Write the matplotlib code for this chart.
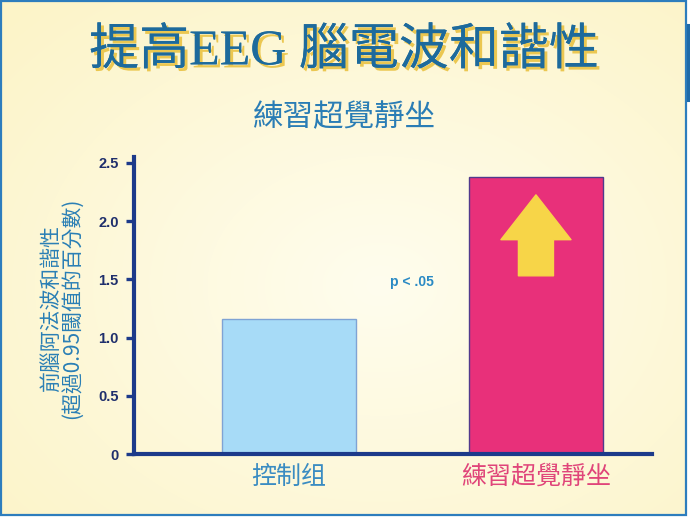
import numpy as np
import matplotlib
matplotlib.use("Agg")
import matplotlib.pyplot as plt
import matplotlib.patheffects as pe
from matplotlib.patches import Rectangle, Polygon
from matplotlib.lines import Line2D

plt.rcParams['font.family'] = ['Noto Sans CJK TC', 'DejaVu Sans']

# ---- data ----
groups = ['控制组', '練習超覺靜坐']
values = [1.16, 2.38]
ytick_values = [0, 0.5, 1.0, 1.5, 2.0, 2.5]
ytick_labels = ['0', '0.5', '1.0', '1.5', '2.0', '2.5']
title = '提高EEG 腦電波和諧性'
subtitle = '練習超覺靜坐'
ylabel = '前腦阿法波和諧性\n(超過0.95閾值的百分數)'
p_text = 'p < .05'

bar_colors = ['#a7dbf7', '#e8307a']
bar_edges = ['#7fa3d4', '#503a8c']
label_colors = ['#3a8cc2', '#e0457a']

W, H = 690, 519
fig = plt.figure(figsize=(W / 100, H / 100), dpi=100)
fig.patch.set_facecolor('white')

# ---- cream background with a soft radial glow ----
bg = fig.add_axes([0, 0, 1, 1], zorder=-10)
yy, xx = np.mgrid[0:H, 0:W]
r = np.sqrt(((xx - 0.55 * W) / W) ** 2 + ((yy - 0.55 * H) / H) ** 2)
t = np.clip(r / 0.75, 0, 1)[..., None]
inner = np.array([255, 253, 238]) / 255.0
outer = np.array([252, 244, 200]) / 255.0
img = inner * (1 - t) + outer * t
bg.imshow(img, extent=[0, W, H, 0], aspect='auto')
bg.set_xlim(0, W)
bg.set_ylim(H, 0)
bg.axis('off')
# white margin outside the frame and the blue frame itself
bg.add_patch(Rectangle((686.5, 0), 10, H, color='white', zorder=2))
bg.add_patch(Rectangle((0, 515.5), W, 10, color='white', zorder=2))
bg.add_patch(Rectangle((1, 1), 685, 514, fill=False, edgecolor='#2d7dbd',
                       linewidth=1.6, zorder=3))
bg.add_line(Line2D([688, 688], [25, 100], color='#1f6aa8', linewidth=2.2, zorder=3))

# ---- titles ----
fig.text(344 / W, 1 - 52 / H, title, ha='center', va='center',
         fontsize=36, color='#1d6a9c',
         family=['Liberation Serif', 'Noto Sans CJK TC'],
         path_effects=[pe.withSimplePatchShadow(offset=(2.2, -2.2),
                                                shadow_rgbFace='#e8bf3a',
                                                alpha=0.85),
                       pe.Normal()])
fig.text(344 / W, 1 - 118 / H, subtitle, ha='center', va='center',
         fontsize=22, color='#2a7db5')

# ---- bar chart ----
ax = fig.add_axes([134 / W, 1 - 454 / H, (652 - 134) / W, (454 - 157) / H])
ax.patch.set_alpha(0)
x = np.arange(len(groups))
ax.bar(x, values, width=0.54, color=bar_colors, edgecolor=bar_edges,
       linewidth=1.0, zorder=2)
ax.set_xlim(-0.628, 1.47)
ax.set_ylim(0, 2.55)

for s in ('top', 'right'):
    ax.spines[s].set_visible(False)
for s in ('left', 'bottom'):
    ax.spines[s].set_color('#1c3a8a')
    ax.spines[s].set_linewidth(3.0)
    ax.spines[s].set_zorder(3)

ax.set_yticks(ytick_values)
ax.set_yticklabels(ytick_labels)
ax.tick_params(axis='y', direction='out', length=6, width=2.4,
               color='#1c3a8a', pad=5)
for lbl in ax.get_yticklabels():
    lbl.set_fontfamily('Liberation Sans')
    lbl.set_fontweight('bold')
    lbl.set_fontsize(10.5)
    lbl.set_color('#1f2f6c')

ax.set_xticks(x)
ax.set_xticklabels(groups)
ax.tick_params(axis='x', length=0, pad=7)
for lbl, c in zip(ax.get_xticklabels(), label_colors):
    lbl.set_fontsize(18)
    lbl.set_color(c)

# upward arrow inside the taller bar
ax_x, tip, base, bottom = 1.0, 2.225, 1.84, 1.53
hw, sw = 0.142, 0.071
arrow = Polygon([(ax_x, tip), (ax_x + hw, base), (ax_x + sw, base),
                 (ax_x + sw, bottom), (ax_x - sw, bottom), (ax_x - sw, base),
                 (ax_x - hw, base)], closed=True, facecolor='#f7d548',
                edgecolor='#f7d548', linewidth=1.0, joinstyle='round', zorder=4)
ax.add_patch(arrow)

ax.text(0.41, 1.48, p_text, ha='left', va='center', fontsize=10,
        fontweight='bold', color='#2a8ac4', family='Liberation Sans')

# ---- y-axis label ----
fig.text(61 / W, 1 - 308 / H, ylabel, rotation=90, ha='center', va='center',
         multialignment='center', fontsize=15, color='#2a7fb5', linespacing=0.95)

fig.savefig('out.png', dpi=100)
